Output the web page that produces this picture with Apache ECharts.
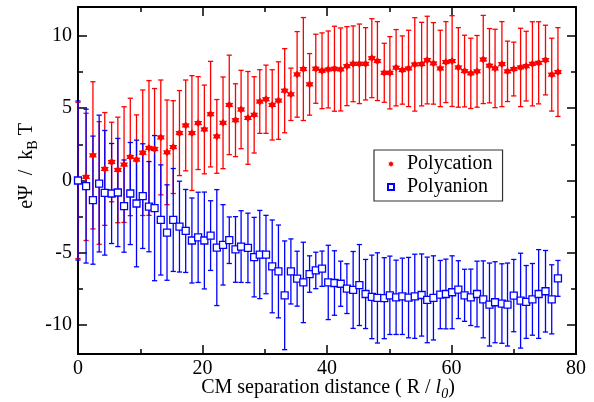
<!DOCTYPE html>
<html>
<head>
<meta charset="utf-8">
<script src="https://cdn.jsdelivr.net/npm/echarts@6/dist/echarts.min.js"></script>
<style>
html,body{margin:0;padding:0;background:#fff;}
#chart{width:594px;height:402px;}
</style>
</head>
<body>
<div id="chart"></div>
<script>
// ---- data ----
const xValues = [0, 1.3, 2.4, 3.4, 4.3, 5.4, 6.4, 7.4, 8.4, 9.4, 10.4, 11.4,
  12.3, 13.3, 14.3, 15.3, 16.3, 17.3, 18.3, 19.3, 20.3, 21.3, 22.3, 23.3, 24.3, 25.3,
  26.2, 27.3, 28.3, 29.2, 30.2, 31.2, 32.2, 33.2, 34.2, 35.2, 36.2, 37.2, 38.2, 39.2,
  40.2, 41.2, 42.2, 43.2, 44.2, 45.2, 46.2, 47.2, 48.1, 49.2, 50.1, 51.1, 52.1, 53.1,
  54.1, 55.2, 56.1, 57.1, 58.2, 59.1, 60.1, 61.1, 62.1, 63.1, 64.1, 65.1, 66.1, 67.0,
  68.1, 69.0, 70.0, 71.1, 72.0, 73.0, 74.0, 75.1, 76.1, 77.1];

const polycation = [0.0, 0.25, 1.74, -0.17, 0.80, 1.28, 0.73, 1.10, 1.63, 1.44, 1.92, 2.25,
  2.18, 2.98, 1.95, 2.31, 3.28, 3.81, 3.28, 3.97, 3.53, 4.59, 3.05, 3.99, 5.23, 4.17,
  4.91, 4.33, 4.54, 5.46, 5.62, 5.23, 5.53, 6.21, 5.96, 7.34, 7.71, 6.65, 7.73, 7.59,
  7.68, 7.73, 7.68, 7.91, 8.07, 8.07, 8.07, 8.46, 8.26, 7.45, 7.45, 7.80, 7.64, 7.75,
  8.03, 8.05, 8.33, 8.10, 7.75, 8.19, 8.26, 7.82, 7.57, 7.41, 7.55, 8.37, 7.94, 7.75,
  8.05, 7.55, 7.71, 7.82, 7.91, 8.07, 8.14, 8.33, 7.32, 7.50];

const polycationErr = [5.4, 4.4, 5.09, 4.24, 3.9, 2.75, 3.65, 4.0, 4.06, 3.1, 4.34, 4.66,
  4.18, 3.97, 3.62, 3.21, 2.94, 3.14, 3.97, 3.21, 3.07, 3.65, 2.55, 3.17, 3.44, 2.52,
  2.71, 3.21, 2.64, 2.2, 2.36, 2.43, 2.68, 2.91, 1.81, 2.96, 3.56, 2.13, 2.39, 2.62,
  2.66, 2.94, 2.87, 2.73, 2.62, 2.75, 2.5, 2.73, 2.73, 2.04, 2.5, 2.64, 2.36, 2.64,
  3.23, 2.89, 3.03, 2.82, 2.64, 2.8, 3.14, 2.75, 2.48, 2.43, 2.48, 3.05, 2.57, 2.71,
  2.94, 2.09, 1.86, 2.71, 2.41, 2.91, 2.84, 2.41, 2.52, 3.07];

const polyanion = [0.0, -0.39, -1.36, -0.21, -0.85, -0.90, -0.83, -1.77, -0.90, -1.59, -1.08, -1.81,
  -1.91, -2.73, -3.60, -2.73, -3.19, -3.49, -4.15, -3.93, -4.15, -3.81, -4.64, -4.45, -4.13, -4.77,
  -4.57, -4.66, -5.30, -5.12, -5.12, -5.94, -6.29, -7.94, -6.29, -6.79, -7.05, -6.47, -6.22, -6.10,
  -7.05, -7.09, -7.14, -7.48, -7.57, -7.23, -7.85, -8.05, -8.12, -8.14, -7.94, -8.08, -8.01, -8.10,
  -8.01, -7.92, -8.26, -8.12, -7.89, -7.85, -7.73, -7.55, -7.94, -8.08, -7.85, -8.22, -8.58, -8.42,
  -8.51, -8.58, -7.96, -8.31, -8.40, -8.22, -7.85, -7.66, -8.22, -6.77];

const polyanionErr = [5.5, 5.32, 4.43, 4.73, 4.31, 3.46, 3.74, 3.19, 3.53, 4.38, 3.62, 3.12,
  5.02, 3.81, 3.3, 3.56, 3.14, 2.87, 2.94, 3.12, 3.35, 2.41, 4.01, 2.78, 1.61, 2.27,
  2.48, 2.4, 2.75, 3.05, 2.71, 3.21, 3.21, 3.76, 2.25, 1.9, 2.78, 1.26, 1.26, 1.22,
  2.57, 2.23, 1.56, 1.72, 2.66, 2.8, 2.39, 2.89, 3.12, 2.8, 2.71, 2.57, 2.64, 2.78,
  2.91, 2.84, 2.96, 2.91, 2.36, 2.41, 2.52, 2.0, 1.8, 1.95, 2.27, 2.66, 2.87, 2.8,
  2.75, 2.87, 2.5, 3.28, 2.52, 2.48, 3.07, 2.82, 2.39, 1.24];

const xTicks = [0, 20, 40, 60, 80];
const yMajorTicks = [-10, -5, 0, 5, 10];
const yMinorTicks = [-7.5, -2.5, 2.5, 7.5];

// ---- chart ----
const FONT = 'Liberation Serif';
const RED = '#ff0000';
const BLUE = '#0000ff';

function starPath(n, rIn) {
  let s = '';
  for (let i = 0; i < 2 * n; i++) {
    const r = i % 2 ? rIn : 1;
    const a = Math.PI * i / n - Math.PI / 2;
    s += (i ? 'L' : 'M') + (r * Math.cos(a) * 10 + 10).toFixed(2) + ' ' + (r * Math.sin(a) * 10 + 10).toFixed(2) + ' ';
  }
  return 'path://' + s + 'Z';
}
const STAR = starPath(6, 0.62);

const redPts = xValues.map((x, i) => [x, polycation[i]]);
const bluePts = xValues.map((x, i) => [x, polyanion[i]]);
const redBars = xValues.map((x, i) => [x, polycation[i] - polycationErr[i], polycation[i] + polycationErr[i]]);
const blueBars = xValues.map((x, i) => [x, polyanion[i] - polyanionErr[i], polyanion[i] + polyanionErr[i]]);

function errRender(color) {
  return function (params, api) {
    const x = api.value(0);
    const lo = api.coord([x, api.value(1)]);
    const hi = api.coord([x, api.value(2)]);
    const h = 2.6;
    const st = { stroke: color, lineWidth: 1.3 };
    return {
      type: 'group',
      children: [
        { type: 'line', shape: { x1: lo[0], y1: lo[1], x2: hi[0], y2: hi[1] }, style: st },
        { type: 'line', shape: { x1: lo[0] - h, y1: lo[1], x2: lo[0] + h, y2: lo[1] }, style: st },
        { type: 'line', shape: { x1: hi[0] - h, y1: hi[1], x2: hi[0] + h, y2: hi[1] }, style: st }
      ]
    };
  };
}

const axisLineStyle = { onZero: false, lineStyle: { color: '#000', width: 2 } };
const tickStyle = { color: '#000', width: 1.5 };

const chart = echarts.init(document.getElementById('chart'), null, { renderer: 'canvas' });
chart.setOption({
  animation: false,
  backgroundColor: '#fff',
  textStyle: { fontFamily: FONT },
  grid: { left: 78, right: 18, top: 7, bottom: 48, containLabel: false },
  xAxis: [
    {
      type: 'value', min: 0, max: 80, interval: 20, position: 'bottom',
      axisLine: axisLineStyle,
      axisTick: { inside: true, length: 9, lineStyle: tickStyle },
      minorTick: { show: true, splitNumber: 2, length: 5, lineStyle: tickStyle },
      axisLabel: { color: '#000', fontSize: 20, fontFamily: FONT, margin: 5 },
      splitLine: { show: false }
    },
    {
      type: 'value', min: 0, max: 80, interval: 20, position: 'top',
      axisLine: axisLineStyle,
      axisTick: { inside: true, length: 9, lineStyle: tickStyle },
      minorTick: { show: true, splitNumber: 2, length: 5, lineStyle: tickStyle },
      axisLabel: { show: false },
      splitLine: { show: false }
    }
  ],
  yAxis: [
    {
      type: 'value', min: -12, max: 12, position: 'left',
      axisLine: axisLineStyle,
      axisTick: { inside: true, length: 9, lineStyle: tickStyle, customValues: yMajorTicks },
      axisLabel: { color: '#000', fontSize: 20, fontFamily: FONT, margin: 6, customValues: yMajorTicks },
      splitLine: { show: false }
    },
    {
      type: 'value', min: -12, max: 12, position: 'left',
      axisLine: { show: false, onZero: false },
      axisTick: { inside: true, length: 5, lineStyle: tickStyle, customValues: yMinorTicks },
      axisLabel: { show: false, customValues: yMinorTicks },
      splitLine: { show: false }
    },
    {
      type: 'value', min: -12, max: 12, position: 'right',
      axisLine: axisLineStyle,
      axisTick: { inside: true, length: 9, lineStyle: tickStyle, customValues: yMajorTicks },
      axisLabel: { show: false, customValues: yMajorTicks },
      splitLine: { show: false }
    },
    {
      type: 'value', min: -12, max: 12, position: 'right',
      axisLine: { show: false, onZero: false },
      axisTick: { inside: true, length: 5, lineStyle: tickStyle, customValues: yMinorTicks },
      axisLabel: { show: false, customValues: yMinorTicks },
      splitLine: { show: false }
    }
  ],
  legend: {
    left: 374, top: 150,
    orient: 'vertical',
    data: ['Polycation', 'Polyanion'],
    borderColor: '#333', borderWidth: 1.2,
    backgroundColor: '#fff',
    padding: [4, 10, 4, 13],
    itemGap: 3,
    itemWidth: 6, itemHeight: 6,
    textStyle: { color: '#000', fontSize: 20, fontFamily: FONT, lineHeight: 20, padding: [0, 0, 0, 8] }
  },
  graphic: [
    {
      type: 'text', x: 27, y: 166, rotation: Math.PI / 2,
      style: {
        text: '{n|eΨ  /  k}{s|B}{n| T}',
        align: 'center', verticalAlign: 'middle',
        rich: {
          n: { fontFamily: FONT, fontSize: 20, fill: '#000', lineHeight: 20, verticalAlign: 'top' },
          s: { fontFamily: FONT, fontSize: 14, fill: '#000', lineHeight: 14, padding: [9, 0, 0, 0], verticalAlign: 'top' }
        }
      }
    },
    {
      type: 'text', x: 328, y: 388,
      style: {
        text: '{n|CM separation distance ( R / }{i|l}{s|0}{n|)}',
        align: 'center', verticalAlign: 'middle',
        rich: {
          n: { fontFamily: FONT, fontSize: 20, fill: '#000', lineHeight: 20, verticalAlign: 'top' },
          i: { fontFamily: FONT, fontStyle: 'italic', fontSize: 20, fill: '#000', lineHeight: 20, verticalAlign: 'top' },
          s: { fontFamily: FONT, fontStyle: 'italic', fontSize: 14, fill: '#000', lineHeight: 14, padding: [9, 0, 0, 0], verticalAlign: 'top' }
        }
      }
    }
  ],
  series: [
    {
      type: 'custom', name: 'redErr', xAxisIndex: 0, yAxisIndex: 0,
      renderItem: errRender(RED), data: redBars, z: 2, silent: true,
      encode: { x: 0, y: [1, 2] }
    },
    {
      type: 'custom', name: 'blueErr', xAxisIndex: 0, yAxisIndex: 0,
      renderItem: errRender(BLUE), data: blueBars, z: 2, silent: true,
      encode: { x: 0, y: [1, 2] }
    },
    {
      type: 'scatter', name: 'Polycation', xAxisIndex: 0, yAxisIndex: 0,
      data: redPts, symbol: STAR, symbolSize: 8,
      itemStyle: { color: RED, opacity: 1 }, z: 4
    },
    {
      type: 'scatter', name: 'Polyanion', xAxisIndex: 0, yAxisIndex: 0,
      data: bluePts, symbol: 'rect', symbolSize: 7,
      itemStyle: { color: '#fff', borderColor: BLUE, borderWidth: 1.3, opacity: 1 }, z: 5
    }
  ]
});
</script>
</body>
</html>
